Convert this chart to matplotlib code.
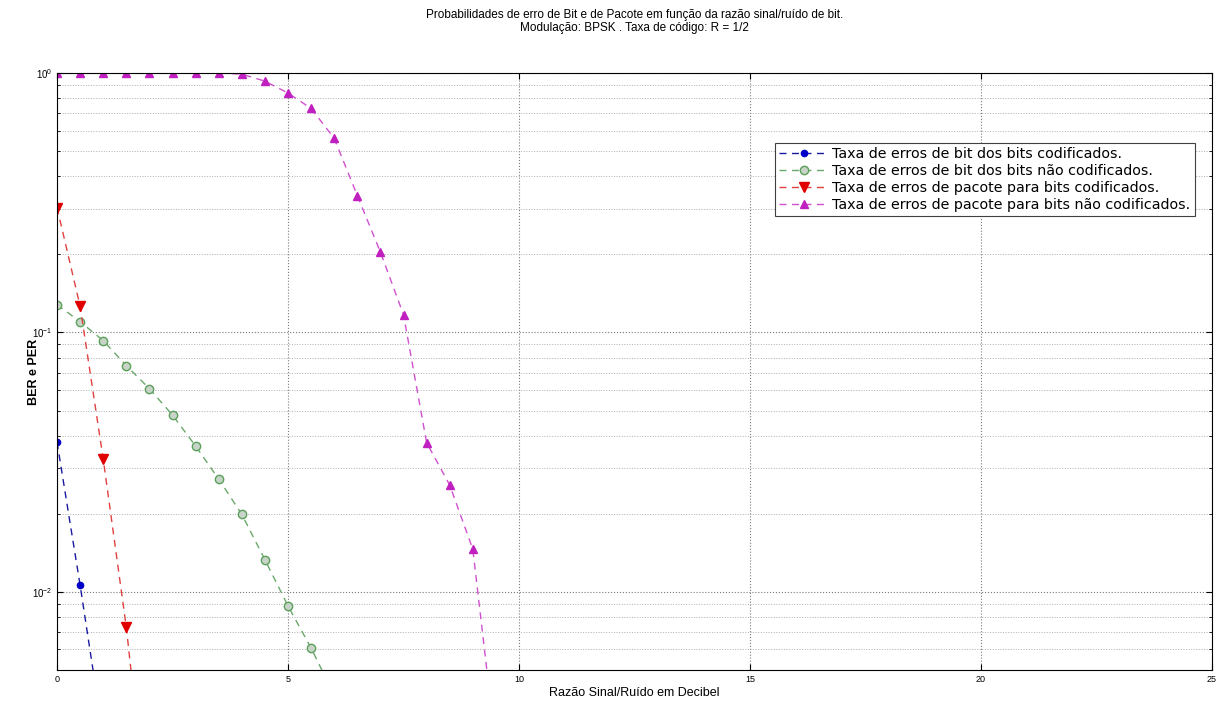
import numpy as np
import matplotlib
matplotlib.use("Agg")
from matplotlib import pyplot as plt
from matplotlib.ticker import LogLocator, NullFormatter

plt.rcParams['font.family'] = ['Liberation Sans', 'DejaVu Sans']

# Eb/N0 values (dB)
snr_db = [0, 0.5, 1, 1.5, 2, 2.5, 3, 3.5, 4, 4.5, 5, 5.5, 6, 6.5, 7, 7.5, 8, 8.5, 9, 9.5]

# bit error rate, coded bits
ber_coded = [0.0378, 0.0106, 0.00276]
# bit error rate, uncoded bits
ber_uncoded = [0.128, 0.110, 0.093, 0.0745, 0.0607, 0.048, 0.0365, 0.0272,
               0.0199, 0.0133, 0.00883, 0.00607, 0.0040]
# packet error rate, coded bits
per_coded = [0.303, 0.126, 0.0325, 0.0073, 0.0011]
# packet error rate, uncoded bits
per_uncoded = [1.0, 1.0, 1.0, 1.0, 1.0, 1.0, 1.0, 1.0, 0.99, 0.93, 0.837, 0.73,
               0.56, 0.337, 0.204, 0.117, 0.0376, 0.0258, 0.0146, 0.0025]

labels = ["Taxa de erros de bit dos bits codificados.",
          "Taxa de erros de bit dos bits não codificados.",
          "Taxa de erros de pacote para bits codificados.",
          "Taxa de erros de pacote para bits não codificados."]


def main():
    fig = plt.figure(figsize=(12.16, 7.04), dpi=100)
    ax = fig.add_axes([0.0469, 0.0483, 0.9498, 0.848])

    ax.semilogy(snr_db[:len(ber_coded)], ber_coded, '--o', color='#1a1aa0',
                markerfacecolor='#0000c8', markeredgecolor='#0000c8', markersize=4.5,
                linewidth=1, dashes=(5, 4), label=labels[0])
    ax.semilogy(snr_db[:len(ber_uncoded)], ber_uncoded, '--o', color='#6aa86a',
                markerfacecolor='#c8d4c8', markeredgecolor='#5aa05a', markersize=6,
                linewidth=1, dashes=(5, 4), label=labels[1])
    ax.semilogy(snr_db[:len(per_coded)], per_coded, '--v', color='#e04040',
                markerfacecolor='#e00000', markeredgecolor='#e00000', markersize=7,
                linewidth=1, dashes=(5, 4), label=labels[2])
    ax.semilogy(snr_db[:len(per_uncoded)], per_uncoded, '--^', color='#d050d0',
                markerfacecolor='#c020c0', markeredgecolor='#c020c0', markersize=6,
                linewidth=1, dashes=(5, 4), label=labels[3])

    ax.set_xlim(0, 25)
    ax.set_ylim(5e-3, 1)
    ax.set_xticks([0, 5, 10, 15, 20, 25])
    ax.yaxis.set_major_locator(LogLocator(base=10, numticks=10))
    ax.yaxis.set_minor_locator(LogLocator(base=10, subs=np.arange(2, 10), numticks=20))
    ax.yaxis.set_minor_formatter(NullFormatter())
    ax.tick_params(which='both', direction='in', top=True, right=True, labelsize=6.5)
    ax.tick_params(axis='y', labelsize=7)
    ax.tick_params(which='major', length=4)
    ax.tick_params(which='minor', length=2.5)

    ax.grid(True, which='major', color='#7a7a7a', linestyle=':', linewidth=0.8)
    ax.grid(True, which='minor', axis='y', color='#b0b0b0', linestyle=':', linewidth=0.7)
    for s in ax.spines.values():
        s.set_linewidth(0.8)

    ax.set_title('Probabilidades de erro de Bit e de Pacote em função da razão sinal/ruído de bit.\n'
                 'Modulação: BPSK . Taxa de código: R = 1/2', fontsize=8.5, pad=30)
    ax.set_xlabel('Razão Sinal/Ruído em Decibel', fontsize=9, labelpad=2)
    ax.set_ylabel('BER e PER', fontsize=9, fontweight='bold', labelpad=-6)

    leg = ax.legend(loc='upper right', bbox_to_anchor=(0.985, 0.883),
                    prop={'family': 'DejaVu Sans', 'size': 10.3},
                    fancybox=False, edgecolor='#404040', framealpha=1,
                    handlelength=3.4, handletextpad=0.3, labelspacing=0.2,
                    borderpad=0.3, borderaxespad=0)
    leg.get_frame().set_linewidth(0.8)

    plt.savefig("out.png", dpi=100)


if __name__ == "__main__":
    main()
